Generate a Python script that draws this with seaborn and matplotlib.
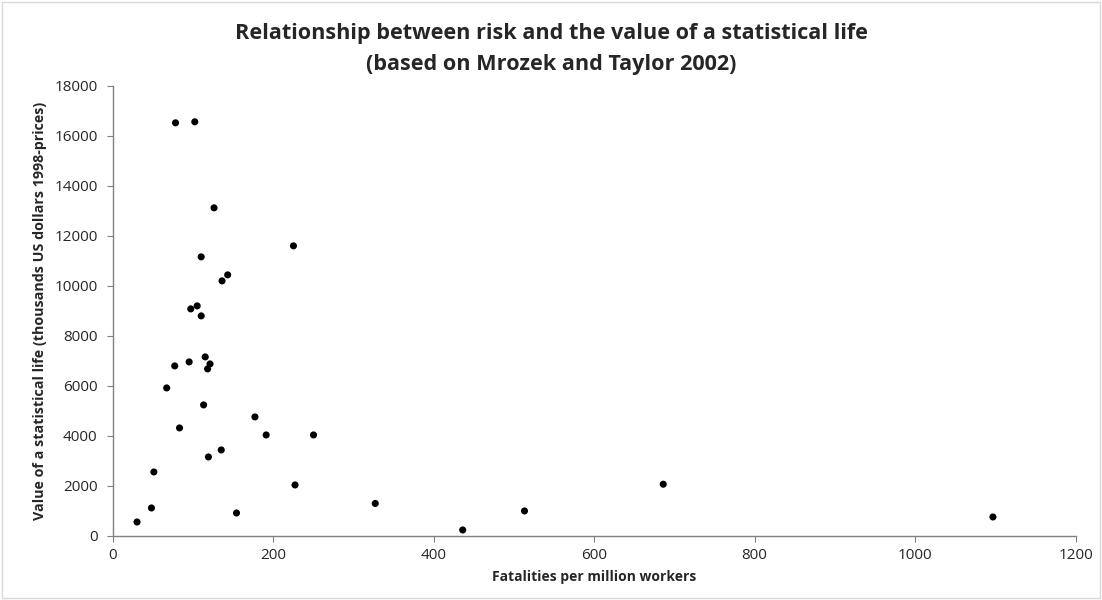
import numpy as np
import pandas as pd
import seaborn as sns
import matplotlib.pyplot as plt
from matplotlib.patches import Rectangle

# Fatalities per million workers vs value of a statistical life
fatalities = [78, 102, 126, 225, 110, 143, 136, 105, 97, 110,
              115, 121, 118, 95, 77, 67, 113, 177, 83, 191,
              250, 135, 119, 51, 227, 48, 154, 30, 327, 436,
              513, 686, 1097]
vsl = [16520, 16560, 13120, 11600, 11160, 10440, 10200, 9200, 9080, 8800,
       7160, 6880, 6680, 6960, 6800, 5920, 5240, 4760, 4320, 4040,
       4040, 3440, 3160, 2560, 2040, 1120, 920, 560, 1300, 240,
       1000, 2070, 760]
x_ticks = [0, 200, 400, 600, 800, 1000, 1200]
y_ticks = list(range(0, 18001, 2000))

df = pd.DataFrame({"fatalities": fatalities, "vsl": vsl})

sns.set_style("white")
plt.rcParams["font.family"] = ["Open Sans", "DejaVu Sans"]

fig = plt.figure(figsize=(11.02, 6.0), dpi=100)
ax = fig.add_axes([0.1025, 0.1067, 0.8735, 0.7503])

sns.scatterplot(data=df, x="fatalities", y="vsl", ax=ax, color="black",
                s=26, marker="o", edgecolor="none", legend=False)

ax.set_xlim(0, 1200)
ax.set_ylim(0, 18000)
ax.set_xticks(x_ticks)
ax.set_yticks(y_ticks)
ax.tick_params(axis="both", labelsize=11, length=4, width=0.8,
               color="#808080", direction="out")
ax.tick_params(axis="x", bottom=True, pad=5)
ax.tick_params(axis="y", left=True, pad=7)

for side in ["top", "right"]:
    ax.spines[side].set_visible(False)
for side in ["left", "bottom"]:
    ax.spines[side].set_color("#808080")
    ax.spines[side].set_linewidth(1.0)

ax.set_xlabel("Fatalities per million workers", fontsize=10,
              fontweight="bold", labelpad=5)
ax.set_ylabel("Value of a statistical life (thousands US dollars 1998-prices)",
              fontsize=10.3, fontweight="bold", labelpad=5)

fig.suptitle("Relationship between risk and the value of a statistical life\n"
             "(based on Mrozek and Taylor 2002)",
             fontsize=15.6, fontweight="bold", y=0.962, linespacing=1.62)

# light chart border
fig.patches.append(Rectangle((0.002, 0.003), 0.996, 0.994,
                             transform=fig.transFigure, fill=False,
                             edgecolor="#d9d9d9", linewidth=1.0))

plt.savefig("out.png", dpi=100)
